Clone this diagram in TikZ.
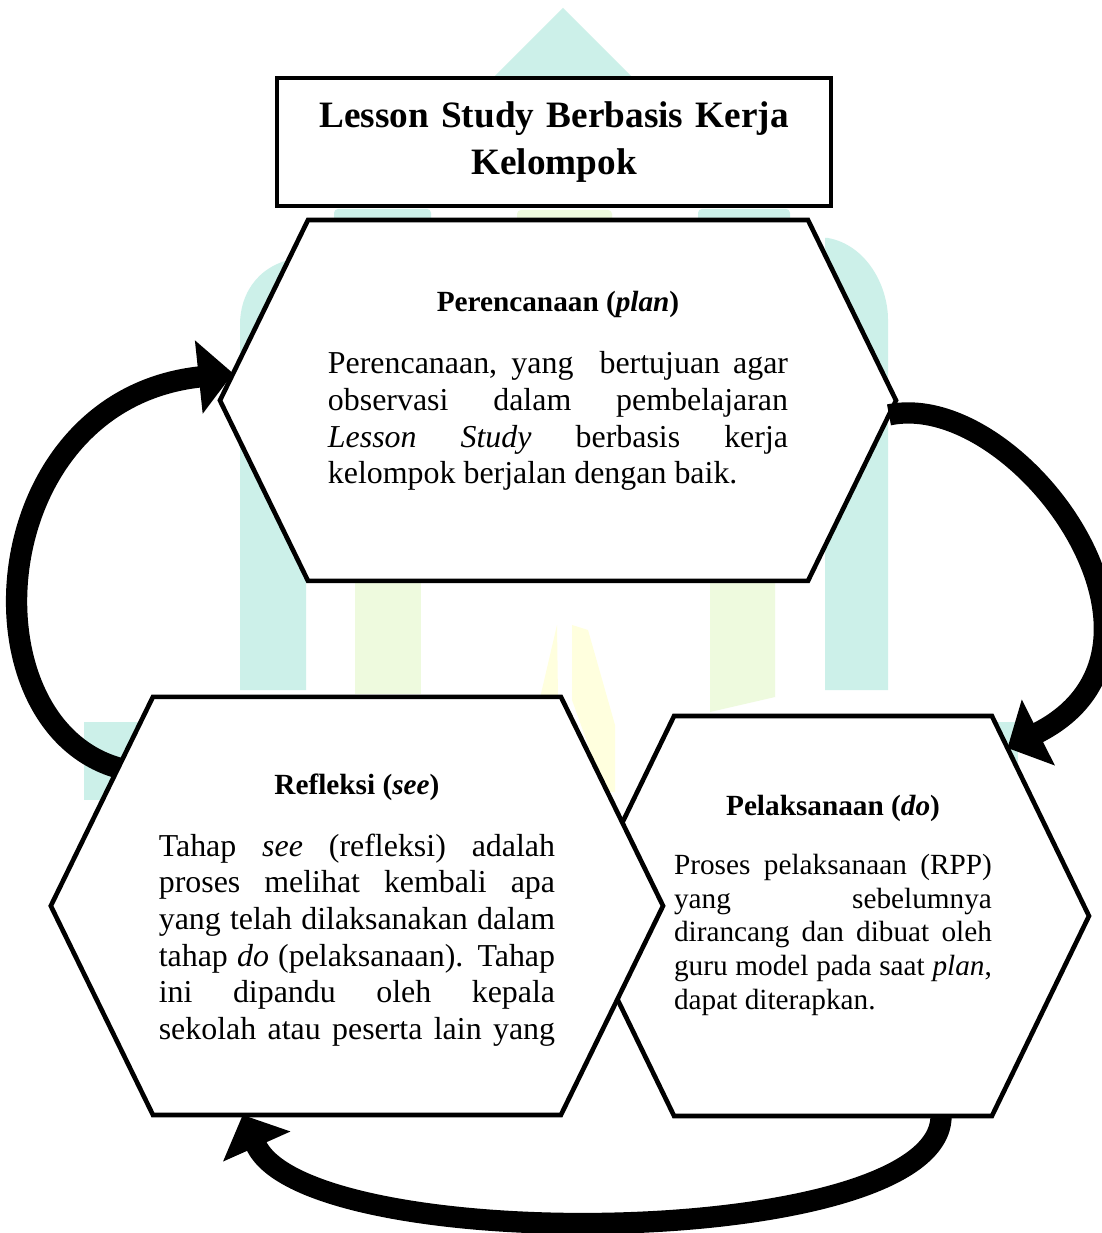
\documentclass[tikz,border=0pt]{standalone}
\usepackage{fontspec}
\setmainfont{Liberation Serif}
\usetikzlibrary{arrows.meta, positioning, calc}
\setlength{\parindent}{0pt}
\pgfdeclarelayer{watermark}
\pgfdeclarelayer{background}
\pgfsetlayers{watermark,background,main}
\definecolor{wmcyan}{RGB}{204,240,233}
\definecolor{wmyellow}{RGB}{238,250,222}
\definecolor{wmflame}{RGB}{255,255,222}
\tikzset{
	titlebox/.style={
		rectangle,
		minimum width=208.3pt,
		minimum height=48.1pt,
		text width=200pt,
		align=center,
		draw=black,
		line width=1.75pt,
		fill=white,
		font=\fontsize{14}{18}\selectfont\bfseries
	},
	hexbox/.style={
		rectangle,
		inner sep=0pt,
		outer sep=0pt,
		align=justify,
		font=\fontsize{12}{13.8}\selectfont
	},
	hexline/.style={
		draw=black,
		line width=1.75pt,
		fill=white
	},
	cyclearrow/.style={
		line width=8pt,
		-{Triangle[length=13pt,width=27pt]}
	}
}
\newcommand{\stagehead}[1]{{\fontsize{11}{12.65}\selectfont\bfseries\centering #1\par}\vspace{9.5pt}}
\newcommand{\hexoutline}[2]{%
	\draw[hexline] (#1.north west) -- (#1.north east) -- ([xshift=#2]#1.east) coordinate (#1-e)
		-- (#1.south east) -- (#1.south west) -- ([xshift=-#2]#1.west) coordinate (#1-w) -- cycle;}

\begin{document}
\begin{tikzpicture}[x=0.376pt, y=-0.376pt]
	\useasboundingbox (0,0) rectangle (1101,1233);

	\node (title) [titlebox] at (554,142) {Lesson Study Berbasis Kerja\\Kelompok};
	\node (plan) [hexbox, minimum width=188pt, minimum height=135.7pt, text width=173pt, below=4.4pt of title, xshift=1.5pt]
		{\stagehead{Perencanaan (\textit{plan})}%
		Perencanaan, yang \ bertujuan agar\linebreak observasi dalam pembelajaran\linebreak \textit{Lesson Study} berbasis kerja\linebreak kelompok berjalan dengan baik.\rule[-9.5pt]{0pt}{0pt}};
	\node (refl) [hexbox, minimum width=153.4pt, minimum height=157.2pt, text width=149pt, below=43.6pt of plan, xshift=-75.6pt]
		{\stagehead{\rule{0pt}{10.9pt}Refleksi (\textit{see})}%
		Tahap \textit{see} (refleksi) adalah\linebreak proses melihat kembali apa\linebreak yang telah dilaksanakan dalam\linebreak tahap \textit{do} (pelaksanaan). Tahap\linebreak ini dipandu oleh kepala\linebreak \makebox[\hsize][s]{sekolah atau peserta lain yang}};
	\node (doo) [hexbox, font=\fontsize{11}{12.65}\selectfont, minimum width=118.1pt, minimum height=150.4pt, text width=119.5pt, below=50.8pt of plan, xshift=103.4pt]
		{\stagehead{Pelaksanaan (\textit{do})}%
		Proses pelaksanaan (RPP)\linebreak yang sebelumnya\linebreak dirancang dan dibuat oleh\linebreak guru model pada saat \textit{plan},\linebreak dapat diterapkan.\rule[-10.3pt]{0pt}{0pt}};

	% hexagon outlines behind the texts
	\begin{pgfonlayer}{background}
		\hexoutline{plan}{33.1pt}
		\hexoutline{doo}{36.5pt}
		\hexoutline{refl}{38.4pt}
	\end{pgfonlayer}

	% faint watermark
	\begin{pgfonlayer}{watermark}
		\fill[white] (0,0) rectangle (1101,1233);
		\fill[wmcyan] (563,8) -- (700,145) -- (426,145) -- cycle;
		\fill[wmcyan, rounded corners=1.5pt] (334,330) -- (334,209) -- (431,209) -- (431,330) -- cycle;
		\fill[wmcyan, rounded corners=1.5pt] (698,330) -- (698,209) -- (790,209) -- (790,330) -- cycle;
		\fill[wmyellow, rounded corners=1.5pt] (517,330) -- (517,210) -- (612,210) -- (612,330) -- cycle;
		\fill[wmcyan] (240,690) -- (240,325) .. controls (240,290) and (262,262) .. (300,258) -- (306,258) -- (306,690) -- cycle;
		\fill[wmcyan] (888,690) -- (888,320) .. controls (888,285) and (866,245) .. (828,238) -- (825,238) -- (825,690) -- cycle;
		\fill[wmyellow] (355,400) rectangle (421,694);
		\fill[wmyellow] (710,400) -- (775,400) -- (775,697) -- (710,712) -- cycle;
		\fill[wmflame] (557,625) -- (540,698) -- (558,698) -- cycle;
		\fill[wmflame] (572,625) -- (588,630) -- (615,725) -- (615,792) -- (605,792) -- (572,700) -- cycle;
		\fill[wmcyan] (84,722) rectangle (300,800);
		\fill[wmcyan] (800,722) rectangle (1018,800);
	\end{pgfonlayer}

	% cycle arrows
	\draw[cyclearrow] ($(refl.north west)!0.34!(refl-w)$) .. controls (-38,723) and (-17,400) .. ($(plan-w)!0.15!(plan.north west)$);
	\draw[cyclearrow] ($(plan-e)!0.08!(plan.south east)$) .. controls (1018,388) and (1207,648) .. ($(doo.north east)!0.16!(doo-e)$);
	\draw[cyclearrow] ($(doo.south west)!0.84!(doo.south east)$) .. controls (941,1251) and (306,1257) .. ($(refl.south west)!0.22!(refl.south east)$);
\end{tikzpicture}
\end{document}
